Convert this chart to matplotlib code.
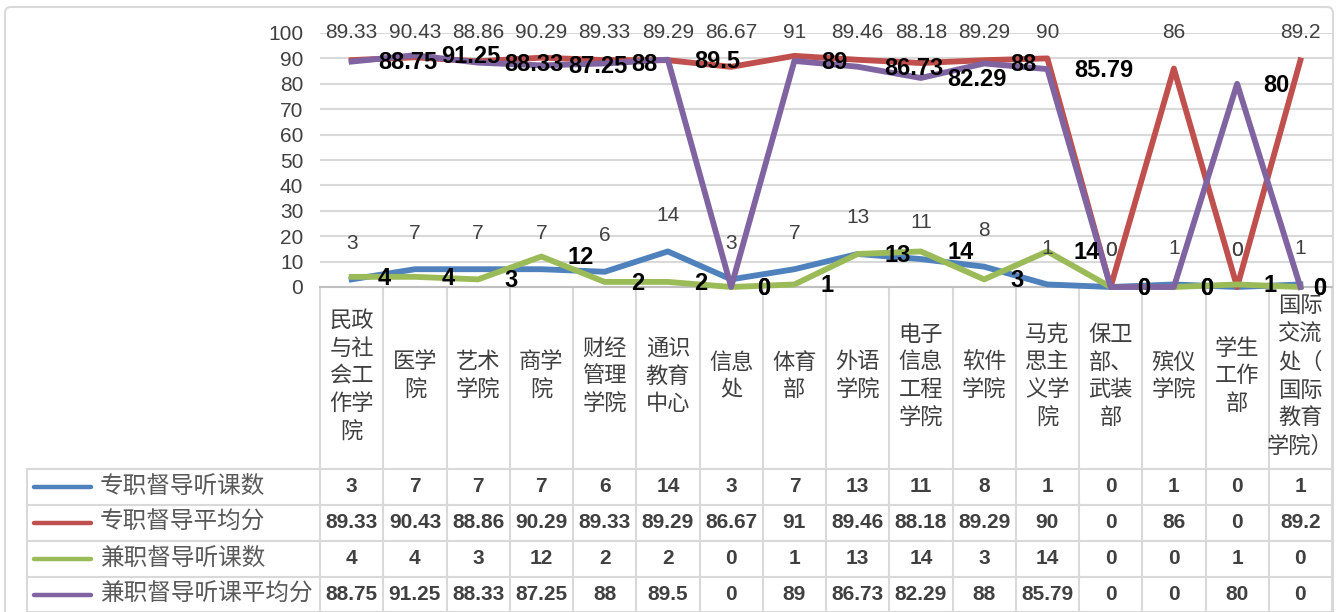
import matplotlib

matplotlib.use("Agg")
import matplotlib.pyplot as plt
from matplotlib.patches import FancyBboxPatch
from matplotlib.transforms import blended_transform_factory

plt.rcParams["font.family"] = ["Liberation Sans", "Noto Sans CJK SC", "DejaVu Sans"]

# data
categories = [
    "民政与社会工作学院", "医学院", "艺术学院", "商学院", "财经管理学院",
    "通识教育中心", "信息处", "体育部", "外语学院", "电子信息工程学院",
    "软件学院", "马克思主义学院", "保卫部、武装部", "殡仪学院", "学生工作部",
    "国际交流处（国际教育学院）",
]
series_names = ["专职督导听课数", "专职督导平均分", "兼职督导听课数", "兼职督导听课平均分"]
full_count = [3, 7, 7, 7, 6, 14, 3, 7, 13, 11, 8, 1, 0, 1, 0, 1]
full_avg = [89.33, 90.43, 88.86, 90.29, 89.33, 89.29, 86.67, 91, 89.46, 88.18, 89.29, 90, 0, 86, 0, 89.2]
part_count = [4, 4, 3, 12, 2, 2, 0, 1, 13, 14, 3, 14, 0, 0, 1, 0]
part_avg = [88.75, 91.25, 88.33, 87.25, 88, 89.5, 0, 89, 86.73, 82.29, 88, 85.79, 0, 0, 80, 0]
yticks = list(range(0, 101, 10))

colors = ["#4f81bd", "#c0504d", "#9bbb59", "#8064a2"]
series = [full_count, full_avg, part_count, part_avg]
GRID = "#d9d9d9"
TXT = "#404040"


def fmt(v):
    return "%g" % v


def wrap2(s):
    # two characters per line, a lone closing bracket stays with the line before
    parts = [s[i:i + 2] for i in range(0, len(s), 2)]
    if len(parts) > 1 and parts[-1] in ("）", ")"):
        last = parts.pop()
        parts[-1] += last
    return "\n".join(parts)


W, H = 1336, 612
fig = plt.figure(figsize=(W / 100, H / 100), dpi=100)
bg = fig.add_axes([0, 0, 1, 1])
bg.set_xlim(0, W)
bg.set_ylim(H, 0)
bg.axis("off")
bg.add_patch(FancyBboxPatch((5, 7), 1328, 620, boxstyle="round,pad=0,rounding_size=6",
                            fc="none", ec=GRID, lw=1.5))

ax = fig.add_axes([320 / W, 1 - 287 / H, (1332 - 320) / W, (287 - 33) / H])
ax.set_facecolor("none")
x = list(range(len(categories)))
for vals, c in zip(series, colors):
    ax.plot(x, vals, color=c, lw=4.2, solid_joinstyle="round", clip_on=False, zorder=3)

ax.set_xlim(-0.5, len(categories) - 0.5)
ax.set_ylim(0, 100)
ax.set_yticks(yticks)
ax.set_xticks([])
ax.tick_params(axis="y", length=0, pad=12, labelsize=15, labelcolor=TXT)
ax.grid(axis="y", color=GRID, lw=1.5, zorder=0)
for side in ("left", "right", "top"):
    ax.spines[side].set_visible(False)
ax.spines["bottom"].set_color("#bfbfbf")
ax.spines["bottom"].set_linewidth(1.5)

# data labels
right_labels = []
for i in x:
    ax.annotate(fmt(full_count[i]), (i, full_count[i]), xytext=(0, 26), textcoords="offset points",
                ha="center", va="center", fontsize=15, color=TXT, zorder=5)
    ax.text(i, min(full_avg[i] + 14.2, 100), fmt(full_avg[i]), ha="center", va="center",
            fontsize=15, color=TXT, zorder=5, clip_on=False)
    for vals in (part_count, part_avg):
        a = ax.annotate(fmt(vals[i]), (i, vals[i]), xytext=(19, -1), textcoords="offset points",
                        ha="left", va="center", fontsize=17, fontweight="bold", color="black",
                        zorder=6, annotation_clip=False)
        right_labels.append(a)

# data table below the axis
tr = blended_transform_factory(ax.transData, bg.transData)
row_edges = [469, 505, 541, 577, 612]
for y in row_edges:
    bg.plot([27, 1332], [y, y], color=GRID, lw=1.5)
bg.plot([27, 27], [469, 612], color=GRID, lw=1.5)
for b in range(len(categories) + 1):
    bg.plot([b - 0.5, b - 0.5], [287, 612], color=GRID, lw=1.5, transform=tr)

for i, name in enumerate(categories):
    bg.text(i, 377, wrap2(name), transform=tr, ha="center", va="center", fontsize=16,
            linespacing=1.43, color=TXT, multialignment="center")

for r, (name, vals, c) in enumerate(zip(series_names, series, colors)):
    yc = (row_edges[r] + row_edges[r + 1]) / 2
    bg.plot([34, 91], [yc, yc], color=c, lw=3.2, solid_capstyle="round")
    bg.text(100, yc, name, ha="left", va="center", fontsize=17, color="#595959")
    for i, v in enumerate(vals):
        bg.text(i, yc, fmt(v), transform=tr, ha="center", va="center", fontsize=15,
                fontweight="bold", color=TXT)

# keep the right-hand labels inside the chart, like the spreadsheet does
fig.canvas.draw()
renderer = fig.canvas.get_renderer()
for a in right_labels:
    bb = a.get_window_extent(renderer)
    if bb.x1 > 1326:
        dx, dy = a.xyann
        a.xyann = (dx - (bb.x1 - 1326) * 72 / fig.dpi, dy)

fig.savefig("out.png", dpi=100)
